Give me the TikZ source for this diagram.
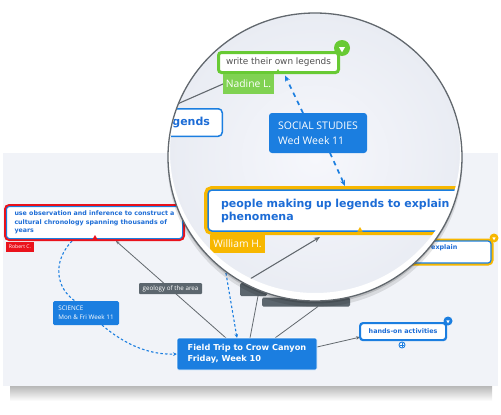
\documentclass[tikz,border=0pt]{standalone}
\usepackage{fontspec}
\setmainfont{DejaVu Sans}
\newfontfamily\lblfont{Open Sans}
\usetikzlibrary{arrows.meta,shapes.geometric}
\pgfdeclarelayer{panel}
\pgfdeclarelayer{edges}
\pgfdeclarelayer{lensbase}
\pgfdeclarelayer{lensedges}
\pgfdeclarelayer{lensmain}
\pgfdeclarelayer{lenstop}
\pgfsetlayers{panel,edges,main,lensbase,lensedges,lensmain,lenstop}
\definecolor{mmblue}{RGB}{27,126,224}
\definecolor{txtblue}{RGB}{28,108,214}
\definecolor{mmred}{RGB}{234,18,28}
\definecolor{mmyellow}{RGB}{247,183,0}
\definecolor{mmgreen}{RGB}{104,202,52}
\definecolor{lblgreen}{RGB}{128,210,82}
\definecolor{mmgray}{RGB}{92,102,110}
\definecolor{edgegray}{RGB}{98,104,110}
\definecolor{panelbg}{RGB}{241,243,248}
\definecolor{lensin}{RGB}{246,247,252}
\definecolor{lensout}{RGB}{233,236,243}
\definecolor{lensline}{RGB}{98,104,110}
\definecolor{wtext}{RGB}{80,80,80}
\begin{document}
\begin{tikzpicture}[x=1pt,y=-1pt,
 base/.style={inner sep=0pt, outer sep=0pt},
 gline/.style={draw=edgegray, line width=0.8pt},
 sdash/.style={draw=mmblue, line width=1.1pt, dash pattern=on 2.5pt off 2.2pt},
 bdash/.style={draw=mmblue, line width=1.7pt, dash pattern=on 4.5pt off 4.5pt},
 stip/.style={-{Stealth[length=4pt,width=3.6pt]}},
 btip/.style={-{Stealth[length=6pt,width=5pt]}},
 tri/.style={regular polygon, regular polygon sides=3, fill=white, inner sep=0pt, minimum size=#1, shape border rotate=180},
 bump/.style={regular polygon, regular polygon sides=3, fill=#1, inner sep=0pt, minimum size=6pt},
]
\useasboundingbox (0,0) rectangle (501,415);

\begin{pgfonlayer}{panel}
 \shade[top color=black!28, bottom color=white] (10,386) rectangle (492,401);
 \fill[panelbg] (3,153) rectangle (498,386);
\end{pgfonlayer}

% ---- background (small) map ----
\node[base, draw=mmblue, line width=1pt, fill=white, rounded corners=3pt, preaction={draw=mmred, line width=5pt}, minimum width=176pt, minimum height=32pt, anchor=north west, align=left, text=txtblue, font=\fontsize{6.3}{8.4}\selectfont\bfseries] (red) at (6.5,206.5) {use observation and inference to construct a\\cultural chronology spanning thousands of\\years};
\node[bump=mmred] (redbump) at (95,238) {};
\node[base, fill=mmred, text=white, font=\lblfont\fontsize{5.1}{6}\selectfont, minimum width=28pt, minimum height=10pt, anchor=north west] (rob) at (6,241.5) {Robert C.};

\node[base, fill=mmblue, rounded corners=1.5pt, text=white, align=left, font=\lblfont\fontsize{6.3}{9}\selectfont, minimum width=66pt, minimum height=24pt, anchor=north west] (sci) at (53,301) {SCIENCE\\Mon \& Fri Week 11};

\node[base, fill=mmblue, draw=white, line width=0.7pt, rounded corners=1.5pt, text=white, align=left, font=\fontsize{8.2}{11}\selectfont\bfseries, minimum width=140pt, minimum height=32pt, anchor=north west] (trip) at (177,338) {Field Trip to Crow Canyon\\Friday, Week 10};

\node[base, fill=white, draw=mmblue, line width=2.2pt, rounded corners=3pt, text=txtblue, font=\fontsize{6.4}{8}\selectfont\bfseries, minimum width=86pt, minimum height=17pt, anchor=north west] (hands) at (360.1,323.1) {hands-on activities};
\node[base, circle, fill=mmblue, minimum size=9pt] (hicon) at (448,321) {};
\node[tri=4pt] (hicontri) at (448,321.3) {};
\node[base, circle, fill=white, draw=mmblue, line width=0.9pt, minimum size=6pt] (hplus) at (402,345) {};
\draw[mmblue, line width=0.8pt] ([xshift=-1.8pt]hplus.center) -- ([xshift=1.8pt]hplus.center) ([yshift=-1.8pt]hplus.center) -- ([yshift=1.8pt]hplus.center);

\node[base, draw=mmblue, line width=1.2pt, fill=white, rounded corners=3pt, preaction={draw=mmyellow, line width=5pt}, minimum width=179pt, minimum height=22pt, text width=154pt, align=left, anchor=north west, text=txtblue, font=\fontsize{6.4}{8}\selectfont\bfseries] (rbox) at (312,241) {people making up legends to explain\\phenomena};
\node[base, circle, fill=mmyellow, minimum size=9pt] (ricon) at (494,238) {};
\node[tri=4pt] (ricontri) at (494,238.3) {};

\node[base, fill=mmgray, rounded corners=1.5pt, minimum width=88pt, minimum height=9pt] (gtwo) at (306,302) {};
\node[base, fill=mmgray, rounded corners=1.5pt, minimum width=27pt, minimum height=13pt] (gone) at (253.5,289.5) {};
\node[base, fill=mmgray, rounded corners=1pt, text=white, font=\lblfont\fontsize{6.25}{7}\selectfont, minimum width=63pt, minimum height=11pt] (geo) at (170.5,288.5) {geology of the area};

\begin{pgfonlayer}{edges}
\draw[gline, {Stealth[length=3.5pt,width=3pt]}-] ([xshift=21.5pt,yshift=-2.5pt]red.south) -- ([xshift=-21pt]trip.north);
\draw[sdash] ([xshift=-22.5pt,yshift=-2.5pt]red.south) .. controls (52,262) and (56,288) .. ([xshift=-11pt]sci.north);
\draw[sdash, stip] ([xshift=16pt]sci.south) .. controls (125,345) and (150,355) .. (trip.west);
\coordinate (dtop) at (222,250);
\draw[sdash, stip] (dtop) -- ([xshift=-10pt]trip.north);
\draw[gline] ([xshift=3pt]trip.north) -- ([xshift=4.5pt]gone.south);
\draw[gline] ([xshift=28pt]trip.north) -- ([xshift=12pt]gtwo.south);
\draw[gline, -{Stealth[length=4pt,width=3.5pt]}] ([yshift=7pt]trip.east) -- ([yshift=-5.5pt]hands.west);
\end{pgfonlayer}

% ---- lens ----
\begin{pgfonlayer}{lensbase}
\fill[black, opacity=0.10] (315,162) ellipse [x radius=147.5, y radius=145];
\fill[black, opacity=0.14] (315,159.5) ellipse [x radius=147, y radius=144];
\shade[inner color=lensin, outer color=lensout] (315,157) ellipse [x radius=147, y radius=144];
\end{pgfonlayer}

\begin{pgfonlayer}{lensmain}
\begin{scope}
\clip (315,157) ellipse [x radius=146.5, y radius=143.5];
\node[base, fill=white, draw=mmgreen, line width=3pt, rounded corners=3pt, text=wtext, font=\fontsize{8.9}{10}\selectfont, minimum width=120pt, minimum height=20pt] (write) at (278.5,62.5) {write their own legends};
\node[bump=mmgreen] (wbump) at (278,72) {};
\node[base, circle, fill=mmgreen, minimum size=16pt] (wicon) at (342,48) {};
\node[tri=7pt] (wicontri) at (342,48.8) {};
\node[base, fill=lblgreen, text=white, font=\lblfont\fontsize{10.3}{12}\selectfont, minimum width=51pt, minimum height=20pt, anchor=north west] (nad) at (223,74) {Nadine L.};
\node[base, fill=white, draw=mmblue, line width=1.5pt, rounded corners=4pt, text=txtblue, font=\fontsize{11}{13}\selectfont\bfseries, minimum width=121.5pt, minimum height=27.5pt, text width=97pt, align=right, anchor=north west] (leg) at (100.75,108.75) {legends};
\node[base, fill=mmblue, rounded corners=3pt, text=white, align=left, font=\lblfont\fontsize{10.5}{15.5}\selectfont, minimum width=98pt, minimum height=40pt] (ss) at (318,133) {SOCIAL STUDIES\\Wed Week 11};
\node[base, fill=white, draw=mmblue, line width=1.5pt, rounded corners=4pt, preaction={draw=mmyellow, line width=8pt}, text=txtblue, font=\fontsize{11}{13}\selectfont\bfseries, text width=250pt, align=left, minimum width=276pt, minimum height=41pt, anchor=north west] (ppl) at (208,190) {people making up legends to explain\\phenomena};
\node[bump=mmyellow] (pbump) at (360,230) {};
\node[base, fill=mmyellow, text=white, font=\lblfont\fontsize{10.3}{12}\selectfont, minimum width=55pt, minimum height=18pt, anchor=north west] (wil) at (210,235) {William H.};
\end{scope}
\end{pgfonlayer}

\begin{pgfonlayer}{lensedges}
\begin{scope}
\clip (315,157) ellipse [x radius=146.5, y radius=143.5];
\coordinate (lfar) at (150,116);
\draw[gline, line width=1.1pt] (nad.west) -- (lfar);
\draw[bdash, btip] ([xshift=-15pt]ss.north) -- ([xshift=6.5pt,yshift=-3pt]write.south);
\draw[bdash, btip] ([xshift=12pt]ss.south) -- ([xshift=-1pt,yshift=4pt]ppl.north);
\coordinate (gfar) at (200,309);
\draw[gline, line width=1.1pt, -{Stealth[length=6pt,width=5pt]}] (gfar) -- ([xshift=-26pt,yshift=-6pt]ppl.south);
\end{scope}
\end{pgfonlayer}

\begin{pgfonlayer}{lenstop}
\begin{scope}
\clip (315,157) ellipse [x radius=147, y radius=144];
\fill[white, even odd rule] (315,157) ellipse [x radius=147, y radius=144] (315,152) ellipse [x radius=145, y radius=141];
\end{scope}
\draw[lensline, line width=1.3pt] (315,157) ellipse [x radius=147, y radius=144];
\end{pgfonlayer}
\end{tikzpicture}
\end{document}
